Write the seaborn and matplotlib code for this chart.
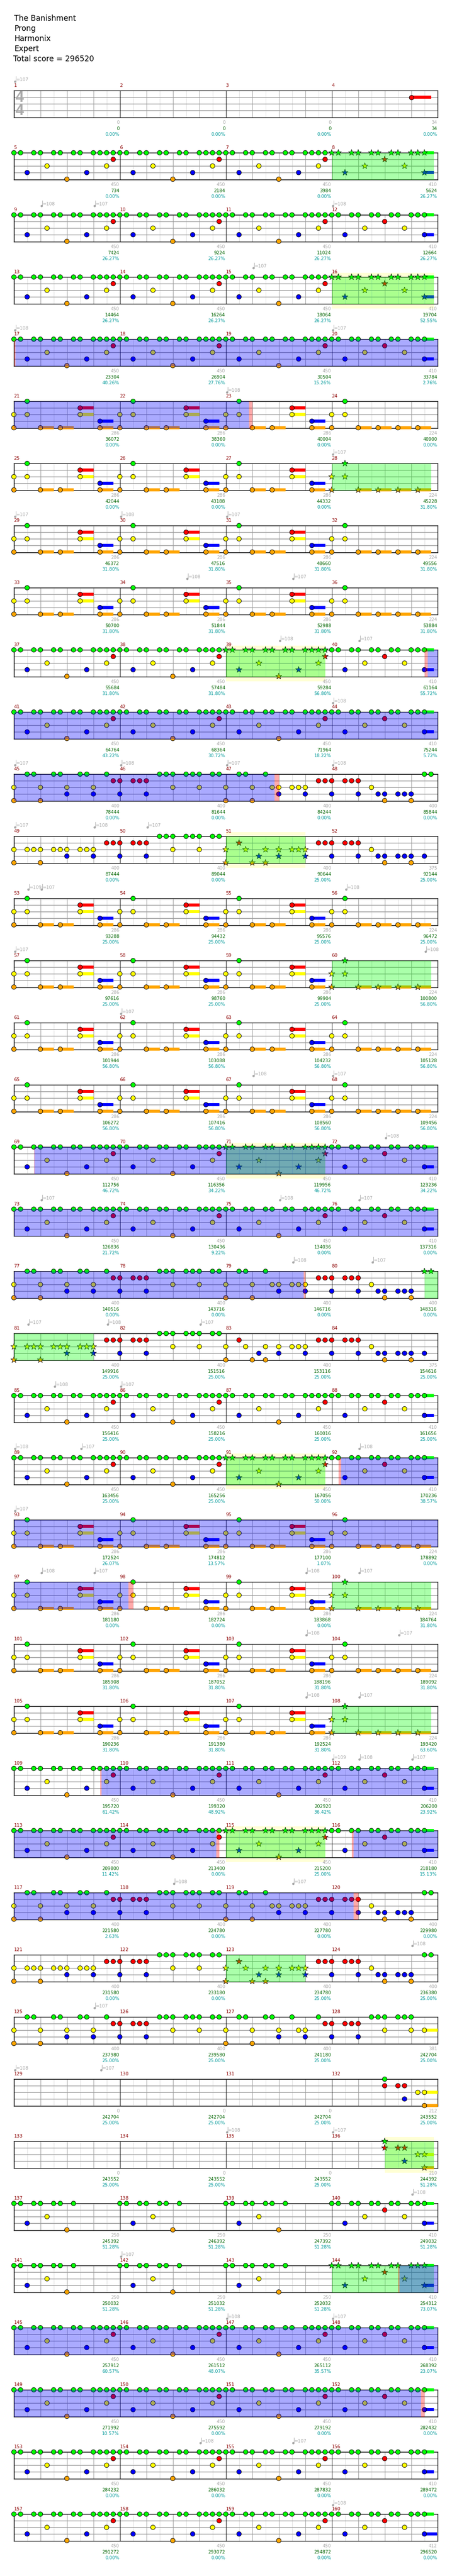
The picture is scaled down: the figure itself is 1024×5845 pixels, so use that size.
import matplotlib
matplotlib.use("Agg")
import matplotlib.pyplot as plt
from matplotlib.patches import Rectangle
import pandas as pd
import seaborn as sns

sns.set_theme(style="white")
plt.rcParams['font.family'] = ['DejaVu Sans']

TITLE_LINES = ["The Banishment", "Prong", "Harmonix", "Expert", "Total score = 296520"]

LANES = ["green", "red", "yellow", "blue", "orange"]
NOTE_COLORS = {"green": "#00FF00", "red": "#FF0000", "yellow": "#FFFF00", "blue": "#0000FF", "orange": "#FFA500"}

# Riffs: note onsets in sixteenths from the row start, one list per lane
A_GREEN = [0,1,3,4,6,7,9,10,12,13,14,15,16,17,19,20,22,23,25,26,28,29,30,31,32,33,35,36,38,39,41,42,44,45,46,47,48,49,51,52,54,55,57,58,60,61,62]
A_RED = [15,31,47,56]
A_YELLOW = [5,14,21,30,37,46,53,59]
A_BLUE = [2,11,18,27,34,43,50,62]
A_ORANGE = [8,24,40]
A_SUST = [("green",62,63.4),("blue",62,63.4)]
A_SUST_END = [("green",62,63.4),("blue",62,63.9)]

B_GREEN = [2,18,34,50]
B_RED = [10,26,42]
B_YELLOW = [0,2,10,16,18,26,32,34,42,48,50]
B_BLUE = [13,29,45]
B_ORANGE = [0,4,7,13,16,20,23,29,32,36,39,45,48,52,55,58,61]
B_SUST = [("red",10,12),("red",26,28),("red",42,44),("yellow",10,12),("yellow",26,28),("yellow",42,44),
          ("blue",13,15),("blue",29,31),("blue",45,47),("orange",4,6),("orange",7,9),("orange",13,15),
          ("orange",20,22),("orange",23,25),("orange",29,31),("orange",36,38),("orange",39,41),("orange",45,47),
          ("orange",52,54),("orange",55,57),("orange",58,60),("orange",61,63)]

C_GREEN = [2,3,6,7,10,11,14,22,23,24,26,27,28,30,31,34,35,38,62,63]
C_RED = [15,16,18,19,20,46,47,48,50,51,52]
C_YELLOW = [0,4,8,12,24,28,32,36,39,40,42,43,44,54]
C_BLUE = [8,12,16,20,40,44,48,52,55,56,58,59,60]
C_ORANGE = [0,4,32,36,56,60]

D_GREEN = [22,23,24,26,27,28,30,31]
D_RED = [14,15,16,18,19,20,34,46,47,48,50,51,52]
D_YELLOW = [0,2,3,4,6,7,8,10,11,12,24,28,32,35,38,40,42,43,44,54]
D_BLUE = [8,12,16,20,37,40,44,48,52,55,56,58,59,60,62]
D_ORANGE = [0,4,32,36,38,56,60]

D2_GREEN = [22,23,24,26,27,28,30,31,62,63]
D2_BLUE = [8,12,16,20,37,40,44,48,52,55,56,58,59,60]

E_GREEN = [2,3,6,7,10,11,14,22,23,24,26,27,28,30,31,34,35,38,39,42,46,54,55,56,58,59,60]
E_RED = [15,16,18,19,20,47,48,50,51,52]
E_YELLOW = [0,4,8,12,24,28,32,36,40,43,44,56,60,62]
E_BLUE = [8,12,16,20,40,44,48,52]
E_ORANGE = [0,4,32,36]
E_SUST = [("yellow",62,64)]

F_GREEN = [0,1,3,4,6,7,9,16,17,19,20,22,23,25,32,33,35,36,38,39,41,48,49,51,52,54,55,57,58,60,61,62]
F_RED = [56]
F_YELLOW = [5,21,37,53,59]
F_BLUE = [2,18,34,50,62]
F_ORANGE = [8,24,40]

G_GREEN = [56]
G_RED = [56,58,59]
G_YELLOW = [61,62]
G_BLUE = [59]
G_ORANGE = [62]
G_SUST = [("yellow",62,64),("orange",62,64)]
G2_SUST = [("yellow",62,63.4),("orange",62,63.4)]

INTRO_RED = [60]
INTRO_SUST = [("red",60,63)]

RIFF_A = (A_GREEN, A_RED, A_YELLOW, A_BLUE, A_ORANGE, A_SUST)
RIFF_A_END = (A_GREEN, A_RED, A_YELLOW, A_BLUE, A_ORANGE, A_SUST_END)
RIFF_B = (B_GREEN, B_RED, B_YELLOW, B_BLUE, B_ORANGE, B_SUST)
RIFF_C = (C_GREEN, C_RED, C_YELLOW, C_BLUE, C_ORANGE, [])
RIFF_D = (D_GREEN, D_RED, D_YELLOW, D_BLUE, D_ORANGE, [])
RIFF_D2 = (D2_GREEN, D_RED, D_YELLOW, D2_BLUE, D_ORANGE, [])
RIFF_E = (E_GREEN, E_RED, E_YELLOW, E_BLUE, E_ORANGE, E_SUST)
RIFF_F = (F_GREEN, F_RED, F_YELLOW, F_BLUE, F_ORANGE, A_SUST)
RIFF_G = (G_GREEN, G_RED, G_YELLOW, G_BLUE, G_ORANGE, G_SUST)
RIFF_G2 = (G_GREEN, G_RED, G_YELLOW, G_BLUE, G_ORANGE, G2_SUST)
RIFF_INTRO = ([], INTRO_RED, [], [], [], INTRO_SUST)

ROW_RIFFS = [RIFF_INTRO, RIFF_A, RIFF_A, RIFF_A, RIFF_A, RIFF_B, RIFF_B, RIFF_B, RIFF_B, RIFF_A,
             RIFF_A, RIFF_C, RIFF_D, RIFF_B, RIFF_B, RIFF_B, RIFF_B, RIFF_A, RIFF_A, RIFF_C,
             RIFF_D, RIFF_A, RIFF_A, RIFF_B, RIFF_B, RIFF_B, RIFF_B, RIFF_A, RIFF_A, RIFF_C,
             RIFF_D2, RIFF_E, RIFF_G, RIFF_G2, RIFF_F, RIFF_F, RIFF_A, RIFF_A, RIFF_A, RIFF_A_END]

# Per-measure labels
BASE_SCORES = [
    0,0,0,34, 450,450,450,410, 450,450,450,410, 450,450,450,410, 450,450,450,410,
    286,286,286,224, 286,286,286,224, 286,286,286,224, 286,286,286,224, 450,450,450,410,
    450,450,450,410, 400,400,400,400, 400,400,400,375, 286,286,286,224, 286,286,286,224,
    286,286,286,224, 286,286,286,224, 450,450,450,410, 450,450,450,410, 400,400,400,400,
    400,400,400,375, 450,450,450,410, 450,450,450,410, 286,286,286,224, 286,286,286,224,
    286,286,286,224, 286,286,286,224, 450,450,450,410, 450,450,450,410, 400,400,400,400,
    400,400,400,400, 400,400,400,381, 0,0,0,212, 0,0,0,210, 250,250,250,410,
    250,250,250,410, 450,450,450,410, 450,450,450,410, 450,450,450,410, 450,450,450,412]
TOTAL_SCORES = [
    0,0,0,34, 734,2184,3984,5624, 7424,9224,11024,12664, 14464,16264,18064,19704,
    23304,26904,30504,33784, 36072,38360,40004,40900, 42044,43188,44332,45228,
    46372,47516,48660,49556, 50700,51844,52988,53884, 55684,57484,59284,61164,
    64764,68364,71964,75244, 78444,81644,84244,85844, 87444,89044,90644,92144,
    93288,94432,95576,96472, 97616,98760,99904,100800, 101944,103088,104232,105128,
    106272,107416,108560,109456, 112756,116356,119956,123236, 126836,130436,134036,137316,
    140516,143716,146716,148316, 149916,151516,153116,154616, 156416,158216,160016,161656,
    163456,165256,167056,170236, 172524,174812,177100,178892, 181180,182724,183868,184764,
    185908,187052,188196,189092, 190236,191380,192524,193420, 195720,199320,202920,206200,
    209800,213400,215200,218180, 221580,224780,227780,229980, 231580,233180,234780,236380,
    237980,239580,241180,242704, 242704,242704,242704,243552, 243552,243552,243552,244392,
    245392,246392,247392,249032, 250032,251032,252032,254312, 257912,261512,265112,268392,
    271992,275592,279192,282432, 284232,286032,287832,289472, 291272,293072,294872,296520]
PERCENTS = [
    0,0,0,0, 0,0,0,26.27, 26.27,26.27,26.27,26.27, 26.27,26.27,26.27,52.55,
    40.26,27.76,15.26,2.76, 0,0,0,0, 0,0,0,31.80, 31.80,31.80,31.80,31.80,
    31.80,31.80,31.80,31.80, 31.80,31.80,56.80,55.72, 43.22,30.72,18.22,5.72, 0,0,0,0,
    0,0,25,25, 25,25,25,25, 25,25,25,56.80, 56.80,56.80,56.80,56.80,
    56.80,56.80,56.80,56.80, 46.72,34.22,46.72,34.22, 21.72,9.22,0,0, 0,0,0,0,
    25,25,25,25, 25,25,25,25, 25,25,50,38.57, 26.07,13.57,1.07,0,
    0,0,0,31.80, 31.80,31.80,31.80,31.80, 31.80,31.80,31.80,63.60, 61.42,48.92,36.42,23.92,
    11.42,0,25,15.13, 2.63,0,0,0, 0,0,25,25, 25,25,25,25,
    25,25,25,25, 25,25,25,51.28, 51.28,51.28,51.28,51.28, 51.28,51.28,51.28,73.07,
    60.57,48.07,35.57,23.07, 10.57,0,0,0, 0,0,0,0, 0,0,0,0]

# (row, sixteenth, bpm)
TEMPO_MARKS = [(0,0,107),(2,4,108),(2,12,107),(2,48,108),(3,36,107),(4,0,108),(4,48,107),(5,32,108),(6,48,107),
    (7,0,107),(7,16,108),(7,32,107),(8,26,108),(8,42,107),(9,40,108),(9,52,107),(10,48,108),
    (11,0,107),(11,16,108),(11,32,107),(11,48,108),(12,0,107),(12,12,108),(12,20,107),
    (13,2,109),(13,4,107),(13,50,108),(14,0,107),(14,62,108),(15,16,107),(16,36,108),(16,48,107),
    (17,56,108),(18,4,107),(18,40,108),(18,52,107),(19,42,108),(19,54,107),(20,2,107),(20,14,108),(20,28,107),
    (21,6,108),(21,16,107),(22,0,108),(22,10,107),(22,52,108),(23,0,107),(24,4,108),(24,12,107),(24,44,108),(24,52,107),
    (25,44,108),(25,58,107),(26,44,108),(26,52,107),(27,48,109),(27,52,108),(27,60,107),(29,24,108),(29,42,107),
    (30,60,108),(31,12,107),(32,0,108),(32,13,107),(33,32,108),(33,48,107),(34,60,108),(35,16,107),
    (36,32,108),(36,48,107),(38,28,108),(38,42,107),(39,48,108)]

# Shaded spans (row, start, end) in sixteenths
GREEN_ZONES = [(1,48,63.4),(3,48,63.4),(6,48,63),(9,32,47),(12,32,44),(14,48,63),(17,32,47),(19,62,64),(20,0,12),
               (22,32,47),(24,48,63),(26,48,63),(28,32,47),(30,32,44),(33,56,63.4),(35,48,63.4)]
YELLOW_BOXES = [(3,48,63.4),(9,32,47),(12,32,44),(17,32,47),(22,32,47),(28,32,47),(33,56,63.4)]
BLUE_ZONES = [(4,0.22,64),(5,0,35.5),(9,62.5,64),(10,0,64),(11,0,39.35),(17,3.1,64),(18,0,64),(19,0,43.75),
              (22,49.4,64),(23,0,64),(24,0,17.3),(27,13.2,64),(28,0,30.55),(28,51.3,64),(29,0,51.3),
              (35,58.25,64),(36,0,64),(37,0,61.5)]
PINK_ZONES = [(4,0,0.22),(5,35.5,36),(9,62,62.5),(11,39.35,40),(17,3,3.1),(19,43.75,44),(22,49,49.4),(24,17.3,18),
              (27,13,13.2),(28,30.55,31),(28,51,51.3),(29,51.3,52),(35,58,58.25),(37,61.5,62)]

W, H = 1024, 5845
LEFT, WIDTH = 31.5, 960
FIRST_TOP, ROW_STEP, STAFF_H = 205.6, 141, 61
LANE_Y = {"green": 0, "red": 15, "yellow": 30, "blue": 45, "orange": 60}
GREY, DKGREEN, TEAL, DKRED = "#A8A8A8", "#006400", "#009999", "#8B0000"
PX = 64 / WIDTH  # sixteenths per pixel

fig = plt.figure(figsize=(W / 100, H / 100), dpi=100, facecolor="white")

for i, line in enumerate(TITLE_LINES):
    fig.text((29.5 if i == 4 else 32) / W, 1 - (42 + 23.1 * i) / H, line, fontsize=12.3,
             color="black", va="center", ha="left")

def zones(lst, row):
    return [(a, b) for r, a, b in lst if r == row]

for row, riff in enumerate(ROW_RIFFS):
    top = FIRST_TOP + ROW_STEP * row
    ax = fig.add_axes([LEFT / W, 1 - (top + STAFF_H) / H, WIDTH / W, STAFF_H / H])
    greens = zones(GREEN_ZONES, row)

    rows = []
    for lane, onsets in zip(LANES, riff[:5]):
        for p in onsets:
            is_star = any(a <= p <= b for a, b in greens)
            rows.append({"pos": p, "y": LANE_Y[lane], "lane": lane, "star": is_star})
    df = pd.DataFrame(rows)

    # grid
    for k in range(0, 65, 2):
        if k % 16 == 0:
            c, lw = "black", 0.75
        elif k % 4 == 0:
            c, lw = "#999999", 0.8
        else:
            c, lw = "#DDDDDD", 0.8
        ax.vlines(k, 0, STAFF_H, color=c, lw=lw, zorder=1.2 if k % 16 == 0 else 1)
    ax.hlines([15, 30, 45], 0, 64, color="#999999", lw=1.15, zorder=1.1)

    for a, b in zones(YELLOW_BOXES, row):
        ax.add_patch(Rectangle((a, -10), b - a, STAFF_H + 20, facecolor="#FFFFD5", edgecolor="none",
                               clip_on=False, zorder=0.5))

    for lane, a, b in riff[5]:
        ax.barh(LANE_Y[lane], b - a, left=a, height=7, color=NOTE_COLORS[lane], linewidth=0,
                clip_on=False, zorder=3)

    normal = df[~df["star"]]
    stars = df[df["star"]]
    if len(normal):
        sns.scatterplot(data=normal, x="pos", y="y", hue="lane", palette=NOTE_COLORS, marker="o", s=56,
                        edgecolor="black", linewidth=0.75, clip_on=False, zorder=4, legend=False, ax=ax)
    if len(stars):
        sns.scatterplot(data=stars, x="pos", y="y", hue="lane", palette=NOTE_COLORS, marker="*", s=115,
                        edgecolor="black", linewidth=0.6, clip_on=False, zorder=4, legend=False, ax=ax)

    for a, b in greens:
        ax.axvspan(a, b, color="#00FF00", alpha=0.333, lw=0, zorder=5)
    for a, b in zones(BLUE_ZONES, row):
        ax.axvspan(a, b, color="#0000FF", alpha=0.333, lw=0, zorder=5.1)
    for a, b in zones(PINK_ZONES, row):
        ax.axvspan(a, b, color="#FF0000", alpha=0.333, lw=0, zorder=5.2)

    ax.set_xlim(0, 64)
    ax.set_ylim(STAFF_H, 0)
    ax.set_xlabel("")
    ax.set_ylabel("")
    ax.set_xticks([])
    ax.set_yticks([])
    ax.grid(False)
    for s in ax.spines.values():
        s.set_visible(True)
        s.set_color("black")
        s.set_linewidth(1.1)
        s.set_zorder(2.5)

    # measure labels and scores
    for m in range(4):
        idx = row * 4 + m
        ax.text(m * 16, -11.3, str(idx + 1), color=DKRED, fontsize=7.6, ha="left", va="center", clip_on=False)
        xr = (m + 1) * 16 - 1.2 * PX
        ax.text(xr, 72.7, str(BASE_SCORES[idx]), color=GREY, fontsize=7.4, ha="right", va="center")
        ax.text(xr, 86, str(TOTAL_SCORES[idx]), color=DKGREEN, fontsize=7.4, ha="right", va="center")
        ax.text(xr, 99.3, f"{PERCENTS[idx]:.2f}%", color=TEAL, fontsize=7.4, ha="right", va="center")

    # tempo marks
    for r, p, bpm in TEMPO_MARKS:
        if r == row:
            ax.plot([p + 2 * PX], [-20.7], marker="o", ms=3.8, color=GREY, mew=0, clip_on=False, zorder=6)
            ax.plot([p + 4.2 * PX] * 2, [-32.3, -20.7], color=GREY, lw=0.75, clip_on=False, zorder=6)
            ax.text(p + 5.2 * PX, -25, f"={bpm}", color=GREY, fontsize=7.4, ha="left", va="center")

    if row == 0:
        for yy in (16, 46):
            ax.text(12.8 * PX, yy, "4", color="#AAAAAA", fontsize=25, ha="center", va="center",
                    family="Liberation Sans", weight="bold", zorder=2)

fig.savefig("out.png", dpi=100, facecolor="white")
